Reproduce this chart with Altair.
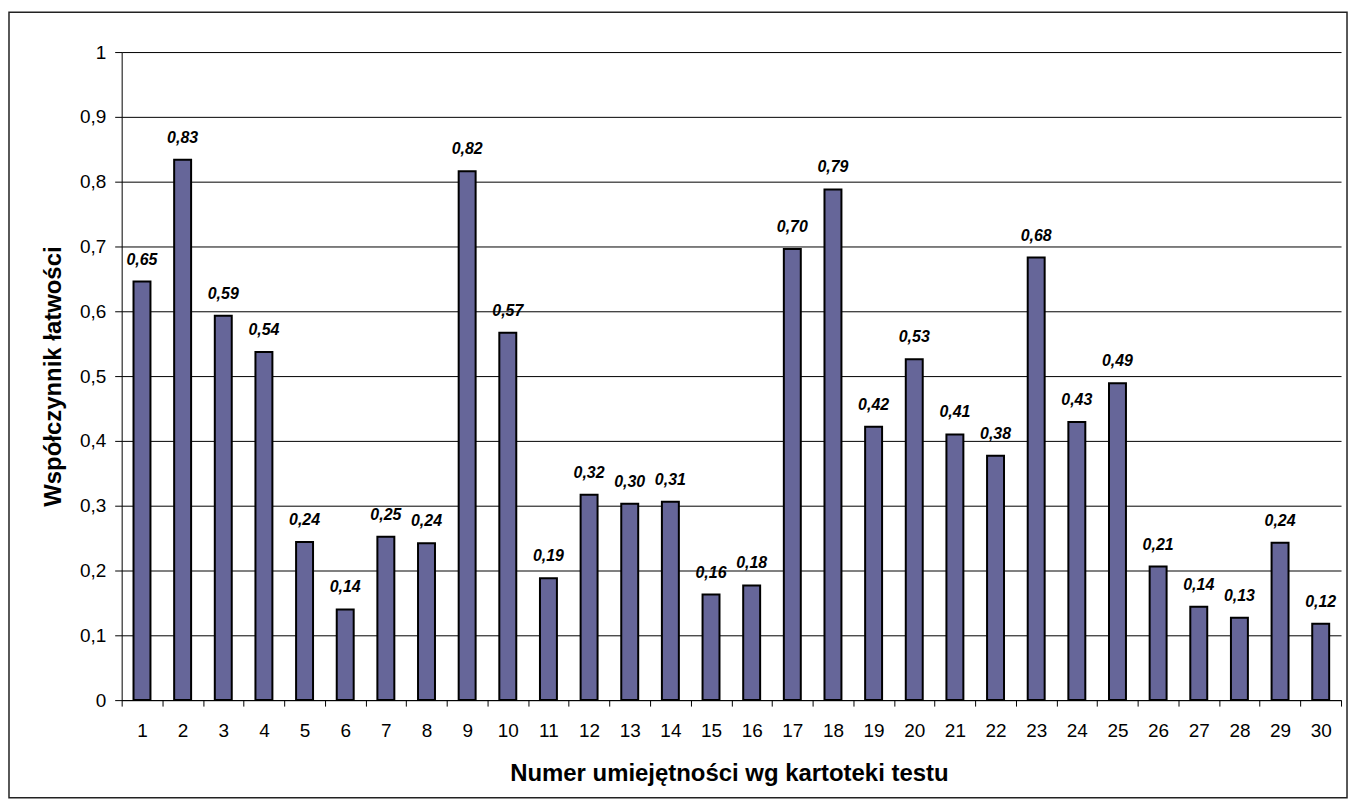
import altair as alt
import pandas as pd

categories = list(range(1, 31))
values = [0.646, 0.834, 0.593, 0.537, 0.244, 0.140, 0.252, 0.242, 0.816, 0.567,
          0.188, 0.317, 0.303, 0.306, 0.163, 0.177, 0.696, 0.788, 0.422, 0.526,
          0.410, 0.377, 0.683, 0.429, 0.489, 0.206, 0.144, 0.127, 0.243, 0.118]
y_ticks = [0, 0.1, 0.2, 0.3, 0.4, 0.5, 0.6, 0.7, 0.8, 0.9, 1]

df = pd.DataFrame({"n": categories, "v": values})

FONT = "Liberation Sans"
W, H = 1223, 650

x_enc = alt.X(
    "n:O",
    scale=alt.Scale(paddingInner=0, paddingOuter=0),
    axis=alt.Axis(
        title="Numer umiejętności wg kartoteki testu",
        labelAngle=0, tickBand="extent", grid=False,
        domainColor="black", tickColor="black", tickSize=6,
        labelFont=FONT, labelFontSize=19, labelColor="black", labelPadding=15,
        titleFont=FONT, titleFontSize=24, titleFontWeight="bold", titleColor="black",
        titleX=609, titleY=81, titleBaseline="alphabetic", titleAlign="center",
    ),
)
y_enc = alt.Y(
    "v:Q",
    scale=alt.Scale(domain=[0, 1], nice=False),
    axis=alt.Axis(
        title="Współczynnik łatwości",
        values=y_ticks,
        labelExpr="replace(format(datum.value, '~g'), '.', ',')",
        grid=True, gridColor="black", gridWidth=1,
        domainColor="black", tickColor="black", tickSize=7,
        labelFont=FONT, labelFontSize=19, labelColor="black", labelPadding=9,
        titleFont=FONT, titleFontSize=24, titleFontWeight="bold", titleColor="black",
        titleX=-61, titleY=325, titleAngle=270, titleBaseline="alphabetic", titleAlign="center",
    ),
)

bars = alt.Chart(df).mark_bar(
    size=17, color="#666699", stroke="black", strokeWidth=2
).encode(x=x_enc, y=y_enc)

labels = alt.Chart(df).transform_calculate(
    lbl="replace(format(datum.v, '.2f'), '.', ',')"
).mark_text(
    baseline="bottom", dy=-14, font=FONT, fontSize=16,
    fontStyle="italic", fontWeight="bold", color="black"
).encode(x="n:O", y="v:Q", text="lbl:N")

border = alt.Chart(pd.DataFrame({"a": [0]})).mark_rect(
    fill=None, fillOpacity=0, stroke="#222222", strokeWidth=1.5
).encode(
    x=alt.value(-113), x2=alt.value(1229),
    y=alt.value(-40), y2=alt.value(748),
)

chart = alt.layer(border, bars, labels).properties(
    width=W, height=H,
    autosize=alt.AutoSizeParams(type="none"),
    padding={"left": 114, "top": 43, "right": 10, "bottom": 100},
    background="white",
).configure_view(stroke=None)

chart.save("out.html", embed_options={"renderer": "svg", "actions": False})
